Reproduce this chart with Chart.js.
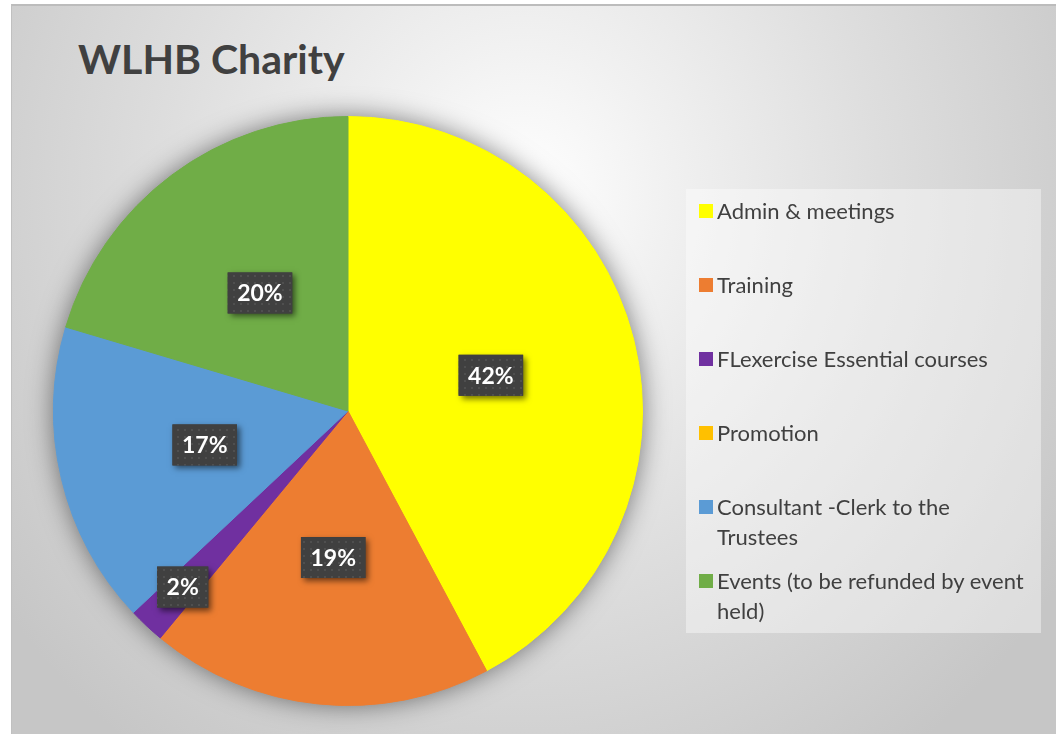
<!DOCTYPE html>
<html lang="en">
<head>
  <meta charset="UTF-8">
  <meta name="viewport" content="width=device-width, initial-scale=1.0">
  <title>WLHB Charity</title>
  <script src="https://cdn.jsdelivr.net/npm/chart.js"></script>
  <style>
    body { margin: 0; background: #fff; font-family: Lato, "Open Sans", sans-serif; }
    #frame {
      position: absolute; left: 11px; top: 4px; right: 0; bottom: 0;
      border-left: 1px solid #c0c0c0; border-top: 2px solid #bcbcbc;
      background: radial-gradient(ellipse 62% 95% at 49% 26%, #ffffff 0%, #f1f1f1 22%, #dedede 55%, #c6c6c6 100%);
    }
    h1 { position: absolute; left: 78px; top: 38px; margin: 0; font-size: 41px; line-height: 41px; font-weight: 700; color: #404040; }
    #chart { position: absolute; left: 0; top: 0; }
    #legend { position: absolute; left: 686px; top: 189px; width: 355px; height: 444px; background: rgba(255,255,255,0.4); }
    #legend .item { position: absolute; left: 0; width: 355px; }
    #legend .box { position: absolute; left: 13px; top: 8px; width: 14px; height: 14px; }
    #legend .txt { position: absolute; left: 31px; width: 318px; font-size: 22px; line-height: 30px; color: #404040; }
  </style>
</head>
<body>
  <div id="frame"></div>
  <h1>WLHB Charity</h1>
  <canvas id="chart" width="1056" height="734"></canvas>
  <div id="legend"></div>
  <script>
    // data (percent of total)
    const categories = ['Admin & meetings', 'Training', 'FLexercise Essential courses', 'Promotion',
                        'Consultant -Clerk to the Trustees', 'Events (to be refunded by event held)'];
    const shares = [42.2, 18.8, 2.0, 0, 16.6, 20.4];
    const colors = ['#FFFF00', '#ED7D31', '#7030A0', '#FFC000', '#5B9BD5', '#70AD47'];

    // soft shadow behind the whole pie
    const pieShadow = {
      id: 'pieShadow',
      beforeDatasetsDraw(chart) {
        const arc = chart.getDatasetMeta(0).data[0];
        if (!arc) return;
        const p = arc.getProps(['x', 'y', 'outerRadius'], true);
        const ctx = chart.ctx;
        ctx.save();
        ctx.shadowColor = 'rgba(0,0,0,0.5)';
        ctx.shadowBlur = 26;
        ctx.fillStyle = '#999';
        ctx.beginPath();
        ctx.arc(p.x, p.y, p.outerRadius, 0, Math.PI * 2);
        ctx.fill();
        ctx.restore();
      }
    };

    // dark callout boxes with the percent
    let dots = null;
    function dotPattern(ctx) {
      if (dots) return dots;
      const c = document.createElement('canvas');
      c.width = 7; c.height = 7;
      const g = c.getContext('2d');
      g.fillStyle = '#404040';
      g.fillRect(0, 0, 7, 7);
      g.fillStyle = '#4f4f4f';
      g.fillRect(2, 2, 2, 2);
      dots = ctx.createPattern(c, 'repeat');
      return dots;
    }
    const labelBoxes = {
      id: 'labelBoxes',
      afterDatasetsDraw(chart) {
        const ctx = chart.ctx;
        const total = shares.reduce((a, b) => a + b, 0);
        chart.getDatasetMeta(0).data.forEach((arc, i) => {
          const v = shares[i];
          if (!v) return;
          const p = arc.getProps(['x', 'y', 'startAngle', 'endAngle', 'outerRadius'], true);
          const mid = (p.startAngle + p.endAngle) / 2;
          const f = v / total < 0.05 ? 0.82 : 0.5;
          const cx = p.x + Math.cos(mid) * p.outerRadius * f;
          const cy = p.y + Math.sin(mid) * p.outerRadius * f;
          const text = Math.round(v / total * 100) + '%';
          ctx.save();
          ctx.font = 'bold 23px Lato, sans-serif';
          const w = ctx.measureText(text).width + 19, h = 41;
          ctx.shadowColor = 'rgba(0,0,0,0.55)';
          ctx.shadowBlur = 6;
          ctx.shadowOffsetX = 3;
          ctx.shadowOffsetY = 3;
          ctx.fillStyle = '#404040';
          ctx.fillRect(cx - w / 2, cy - h / 2, w, h);
          ctx.shadowColor = 'transparent';
          ctx.fillStyle = dotPattern(ctx);
          ctx.fillRect(cx - w / 2, cy - h / 2, w, h);
          ctx.fillStyle = '#fff';
          ctx.textAlign = 'center';
          ctx.textBaseline = 'middle';
          ctx.fillText(text, cx, cy + 1);
          ctx.restore();
        });
      }
    };

    // html legend built from the chart's own legend items
    const htmlLegend = {
      id: 'htmlLegend',
      afterUpdate(chart) {
        const box = document.getElementById('legend');
        box.innerHTML = '';
        const items = chart.options.plugins.legend.labels.generateLabels(chart);
        items.forEach((it, i) => {
          const row = document.createElement('div');
          row.className = 'item';
          row.style.top = (7 + i * 74) + 'px';
          row.innerHTML = '<span class="box" style="background:' + it.fillStyle + '"></span><span class="txt"></span>';
          row.querySelector('.txt').textContent = it.text;
          box.appendChild(row);
        });
      }
    };

    new Chart(document.getElementById('chart'), {
      type: 'pie',
      data: {
        labels: categories,
        datasets: [{ data: shares, backgroundColor: colors, borderColor: colors, borderWidth: 1 }]
      },
      options: {
        responsive: false,
        animation: false,
        layout: { padding: { left: 53, top: 116, right: 413, bottom: 28 } },
        plugins: { legend: { display: false }, tooltip: { enabled: false } }
      },
      plugins: [pieShadow, labelBoxes, htmlLegend]
    });
  </script>
</body>
</html>
